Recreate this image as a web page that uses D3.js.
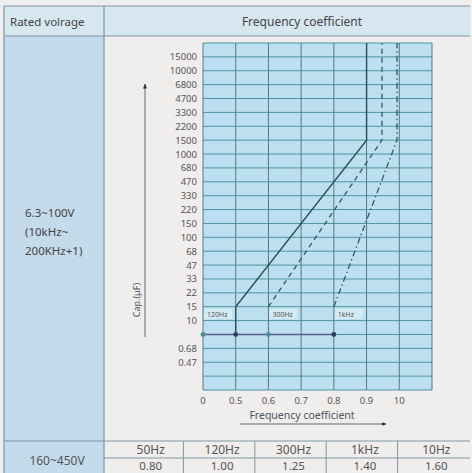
<!DOCTYPE html>
<html>
<head>
<meta charset="utf-8">
<script src="https://cdn.jsdelivr.net/npm/d3@7"></script>
<style>
  body { margin: 0; background: #f0eded; }
  svg { display: block; font-family: "Noto Sans", sans-serif; }
</style>
</head>
<body>
<div id="vis"></div>
<script>
// rows of the capacitance axis (top/bottom are the grid edges, base is the dot row)
const capRows = ["top", "15000", "10000", "6800", "4700", "3300", "2200", "1500", "1000",
  "680", "470", "330", "220", "150", "100", "68", "47", "33", "22", "15", "10",
  "base", "0.68", "0.47", "gap", "bottom"];

const freqTicks = [0, 0.5, 0.6, 0.7, 0.8, 0.9, 1.0];
const freqTickText = ["0", "0.5", "0.6", "0.7", "0.8", "0.9", "10"];

// curves: [frequency coefficient, capacitance row]
const curve120 = [[0.5, "base"], [0.5, "15"], [0.9, "1500"], [0.9, "top"]];
const curve300 = [[0.6, "15"], [0.947, "1500"], [0.947, "top"]];
const curve1k = [[0.8, "15"], [0.993, "1500"], [0.993, "top"]];
const curveNames = ["120Hz", "300Hz", "1kHz"];
const curveStart = [0, 0.6, 0.8];

const basePoints = [0, 0.5, 0.6, 0.8];

const leftLines = ["6.3~100V", "(10kHz~", "200KHz+1)"];
const hvFreqs = ["50Hz", "120Hz", "300Hz", "1kHz", "10Hz"];
const hvCoef = ["0.80", "1.00", "1.25", "1.40", "1.60"];

const W = 472, H = 473;
const svg = d3.select("#vis").append("svg").attr("width", W).attr("height", H);

// ---- table frame ----
const tblLeft = 4, tblRight = 470, colSplit = 104;
const headTop = 6, headBottom = 36, bodyBottom = 441, midLine = 458;

svg.append("rect").attr("x", tblLeft).attr("y", headTop)
  .attr("width", tblRight - tblLeft).attr("height", headBottom - headTop)
  .attr("fill", "#d6e7f0");
svg.append("rect").attr("x", tblLeft).attr("y", headBottom)
  .attr("width", colSplit - tblLeft).attr("height", H - headBottom)
  .attr("fill", "#c3dbeb");

const lineColor = "#7f97a6";
[[tblLeft, headTop, tblRight, headTop], [tblLeft, headBottom, tblRight, headBottom],
 [tblLeft, bodyBottom, tblRight, bodyBottom], [colSplit, midLine, tblRight, midLine],
 [tblLeft, headTop, tblLeft, H], [colSplit, headTop, colSplit, H]].forEach(function (l) {
  svg.append("line").attr("x1", l[0]).attr("y1", l[1]).attr("x2", l[2]).attr("y2", l[3])
    .attr("stroke", lineColor).attr("stroke-width", 1.2);
});

svg.append("text").attr("x", 10).attr("y", 26).attr("font-size", 11.5)
  .attr("fill", "#444").text("Rated volrage");
svg.append("text").attr("x", 302).attr("y", 26).attr("font-size", 12)
  .attr("text-anchor", "middle").attr("fill", "#444").text("Frequency coefficient");

svg.append("g").selectAll("text").data(leftLines).join("text")
  .attr("x", 25).attr("y", function (d, i) { return 217 + i * 19; })
  .attr("font-size", 11.5).attr("fill", "#444").text(function (d) { return d; });

// ---- bottom row ----
const band = d3.scaleBand().domain(hvFreqs).range([115, 472]);
svg.append("g").selectAll("line").data(hvFreqs.slice(1)).join("line")
  .attr("x1", function (d) { return band(d) - 3; }).attr("x2", function (d) { return band(d) - 3; })
  .attr("y1", bodyBottom).attr("y2", H)
  .attr("stroke", lineColor).attr("stroke-width", 1);
svg.append("g").selectAll("text").data(hvFreqs).join("text")
  .attr("x", function (d) { return band(d) + band.bandwidth() / 2; }).attr("y", 454)
  .attr("text-anchor", "middle").attr("font-size", 12).attr("fill", "#555")
  .text(function (d) { return d; });
svg.append("g").selectAll("text").data(hvCoef).join("text")
  .attr("x", function (d, i) { return band(hvFreqs[i]) + band.bandwidth() / 2; }).attr("y", 470)
  .attr("text-anchor", "middle").attr("font-size", 11.5).attr("fill", "#555")
  .text(function (d) { return d; });
svg.append("text").attr("x", 57).attr("y", 465).attr("text-anchor", "middle")
  .attr("font-size", 12).attr("fill", "#555").text("160~450V");

// ---- chart ----
const x = d3.scaleLinear().domain([0, 0.5, 1.1]).range([203, 203 + 229 / 7, 432]);
const y = d3.scalePoint().domain(capRows).range([43, 390]);

svg.append("rect").attr("x", x(0)).attr("y", y("top"))
  .attr("width", x(1.1) - x(0)).attr("height", y("bottom") - y("top"))
  .attr("fill", "#bce0ef");

// horizontal grid
svg.append("g").selectAll("line").data(capRows).join("line")
  .attr("x1", x(0)).attr("x2", x(1.1))
  .attr("y1", function (d) { return y(d); }).attr("y2", function (d) { return y(d); })
  .attr("stroke", "#4f93a5").attr("stroke-width", 1);

// vertical grid
svg.append("g").selectAll("line").data(freqTicks.concat([1.1])).join("line")
  .attr("x1", function (d) { return x(d); }).attr("x2", function (d) { return x(d); })
  .attr("y1", y("top")).attr("y2", y("bottom"))
  .attr("stroke", "#587684").attr("stroke-width", 1);

// y tick labels
svg.append("g").selectAll("text").data(capRows.filter(function (d) { return !isNaN(+d); })).join("text")
  .attr("x", 197).attr("y", function (d) { return y(d) + 3.5; })
  .attr("text-anchor", "end").attr("font-size", 9.5).attr("fill", "#555")
  .text(function (d) { return d; });

// x tick labels
svg.append("g").selectAll("text").data(freqTicks).join("text")
  .attr("x", function (d) { return x(d); }).attr("y", 404)
  .attr("text-anchor", "middle").attr("font-size", 9.5).attr("fill", "#555")
  .text(function (d, i) { return freqTickText[i]; });

// axis titles and arrows
const defs = svg.append("defs");
defs.append("marker").attr("id", "arr").attr("viewBox", "0 0 10 10")
  .attr("refX", 9).attr("refY", 5).attr("markerWidth", 5).attr("markerHeight", 5)
  .attr("orient", "auto")
  .append("path").attr("d", "M0,1 L10,5 L0,9 z").attr("fill", "#333");

svg.append("line").attr("x1", 145).attr("y1", 337).attr("x2", 145).attr("y2", 84)
  .attr("stroke", "#666").attr("stroke-width", 1).attr("marker-end", "url(#arr)");
svg.append("text").attr("transform", "translate(140,300) rotate(-90)")
  .attr("text-anchor", "middle").attr("font-size", 9).attr("fill", "#555").text("Cap.(μF)");

svg.append("text").attr("x", 302).attr("y", 419).attr("text-anchor", "middle")
  .attr("font-size", 10.5).attr("fill", "#4a5560").text("Frequency coefficient");
svg.append("line").attr("x1", 240).attr("y1", 424).attr("x2", 386).attr("y2", 424)
  .attr("stroke", "#666").attr("stroke-width", 1).attr("marker-end", "url(#arr)");

// base row
svg.append("line").attr("x1", x(0)).attr("x2", x(0.8)).attr("y1", y("base")).attr("y2", y("base"))
  .attr("stroke", "#5d5d8c").attr("stroke-width", 1.3);
svg.append("g").selectAll("circle").data(basePoints).join("circle")
  .attr("cx", function (d) { return x(d); }).attr("cy", y("base")).attr("r", 2.4)
  .attr("fill", function (d, i) { return i % 2 === 0 ? "#4b8e94" : "#2e3a66"; });

// curve labels
const labelG = svg.append("g");
curveNames.forEach(function (name, i) {
  const lx = x(curveStart[i]);
  labelG.append("rect").attr("x", lx + 1).attr("y", y("15") + 2)
    .attr("width", 28).attr("height", 10).attr("fill", "#d3ebf1");
  labelG.append("text").attr("x", lx + 4).attr("y", y("15") + 10)
    .attr("font-size", 7).attr("fill", "#555").text(name);
});

// curves
const line = d3.line()
  .x(function (d) { return x(d[0]); })
  .y(function (d) { return y(d[1]); });

svg.append("path").datum(curve120).attr("d", line)
  .attr("fill", "none").attr("stroke", "#2d4f5a").attr("stroke-width", 1.4);
svg.append("path").datum(curve300).attr("d", line)
  .attr("fill", "none").attr("stroke", "#35565f").attr("stroke-width", 1.3)
  .attr("stroke-dasharray", "5,4");
svg.append("path").datum(curve1k).attr("d", line)
  .attr("fill", "none").attr("stroke", "#35565f").attr("stroke-width", 1.3)
  .attr("stroke-dasharray", "6,3,1.5,3");
</script>
</body>
</html>
